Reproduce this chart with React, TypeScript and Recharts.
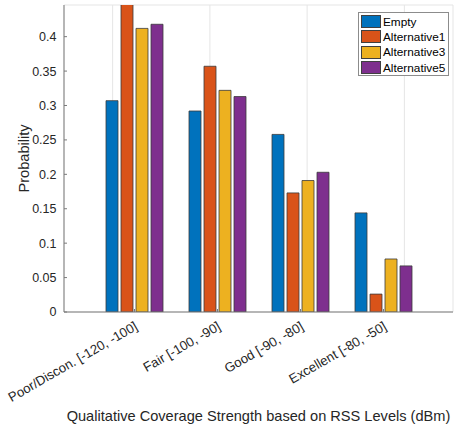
import React from "react";
import { BarChart, Bar, XAxis, YAxis, CartesianGrid } from "recharts";

const categories = [
  "Poor/Discon. [-120, -100]",
  "Fair [-100, -90]",
  "Good [-90, -80]",
  "Excellent [-80, -50]",
];
const empty = [0.307, 0.292, 0.258, 0.144];
const alternative1 = [0.46, 0.357, 0.173, 0.026];
const alternative3 = [0.412, 0.322, 0.191, 0.077];
const alternative5 = [0.418, 0.313, 0.203, 0.067];
const yTicks = [0, 0.05, 0.1, 0.15, 0.2, 0.25, 0.3, 0.35, 0.4];

const seriesNames = ["Empty", "Alternative1", "Alternative3", "Alternative5"];
const seriesKeys = ["empty", "alt1", "alt3", "alt5"];
const colors = ["#0072BD", "#D95319", "#EDB120", "#7E2F8E"];

const data = categories.map((c, i) => ({
  name: c,
  empty: empty[i],
  alt1: alternative1[i],
  alt3: alternative3[i],
  alt5: alternative5[i],
}));

const FONT = "'Liberation Sans', Arial, sans-serif";
const TXT = "#262626";
const AXIS = "#7a7a7a";

const XTick = (props: any) => {
  const { x, y, payload } = props;
  return (
    <g transform={`translate(${x + 4},${y + 9}) rotate(-30)`}>
      <text
        x={0}
        y={0}
        textAnchor="end"
        fontSize={13.2}
        fontFamily={FONT}
        fill={TXT}
      >
        {payload.value}
      </text>
    </g>
  );
};

const NoTick = () => <g />;

const LegendBox = () => (
  <div
    style={{
      position: "absolute",
      left: 358,
      top: 12,
      border: "1px solid #8c8c8c",
      background: "#fff",
      width: 91,
      height: 64,
      padding: "1px 0 1px 2px",
      fontFamily: FONT,
      fontSize: 11.8,
      color: "#000",
      boxSizing: "border-box",
    }}
  >
    {seriesNames.map((n, i) => (
      <div
        key={n}
        style={{ display: "flex", alignItems: "center", height: 15.3 }}
      >
        <div
          style={{
            width: 20,
            height: 13,
            background: colors[i],
            border: "1px solid #404040",
            boxSizing: "border-box",
            marginRight: 2,
          }}
        />
        <span>{n}</span>
      </div>
    ))}
  </div>
);

export default function App() {
  return (
    <div
      style={{
        position: "absolute",
        left: 0,
        top: 0,
        width: 454,
        height: 427,
        background: "#fff",
      }}
    >
      <BarChart
        width={454}
        height={427}
        data={data}
        margin={{ top: 5, right: 1, left: 0, bottom: 0 }}
        barSize={12}
        barGap={3}
      >
        <CartesianGrid stroke="#e5e5e5" strokeWidth={1} />
        <XAxis
          dataKey="name"
          xAxisId="bottom"
          height={115}
          tick={<XTick />}
          tickLine={{ stroke: AXIS }}
          tickSize={-3}
          tickMargin={11}
          axisLine={{ stroke: AXIS }}
          padding={{ left: 29, right: 28 }}
          interval={0}
          label={{
            value: "Qualitative Coverage Strength based on RSS Levels (dBm)",
            position: "insideBottom",
            offset: 6,
            fontSize: 14.6,
            fontFamily: FONT,
            fill: TXT,
          }}
        />
        <XAxis
          dataKey="name"
          xAxisId="top"
          orientation="top"
          height={0}
          tick={<NoTick />}
          tickLine={{ stroke: AXIS }}
          tickSize={-3}
          axisLine={{ stroke: AXIS }}
          padding={{ left: 29, right: 28 }}
          interval={0}
        />
        <YAxis
          yAxisId="left"
          width={64}
          domain={[0, 0.446]}
          ticks={yTicks}
          allowDataOverflow
          tickLine={{ stroke: AXIS }}
          tickSize={-3}
          tickMargin={10.5}
          axisLine={{ stroke: AXIS }}
          tick={{ fontSize: 12.5, fontFamily: FONT, fill: TXT }}
          tickFormatter={(v: number) => String(Number(v.toFixed(2)))}
          label={{
            value: "Probability",
            angle: -90,
            position: "insideLeft",
            offset: 24,
            fontSize: 14.6,
            fontFamily: FONT,
            fill: TXT,
            style: { textAnchor: "middle" },
          }}
        />
        <YAxis
          yAxisId="right"
          orientation="right"
          width={0}
          domain={[0, 0.446]}
          ticks={yTicks}
          allowDataOverflow
          tick={<NoTick />}
          tickLine={{ stroke: AXIS }}
          tickSize={-3}
          axisLine={{ stroke: AXIS }}
        />
        {seriesKeys.map((k, i) => (
          <Bar
            key={k}
            dataKey={k}
            name={seriesNames[i]}
            xAxisId="bottom"
            yAxisId="left"
            fill={colors[i]}
            stroke="#3a3a3a"
            strokeWidth={0.8}
            isAnimationActive={false}
          />
        ))}
      </BarChart>
      <LegendBox />
    </div>
  );
}
